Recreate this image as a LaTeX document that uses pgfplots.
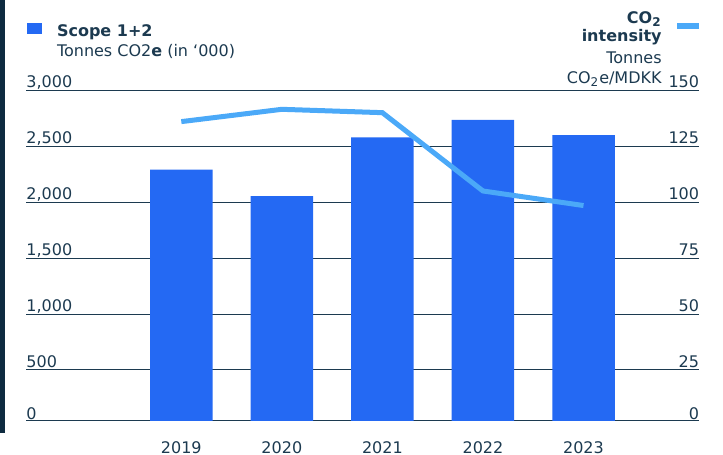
\documentclass[border=0pt]{standalone}
\usepackage{fontspec}
\setmainfont{DejaVu Sans}
\usepackage{pgfplots}
\pgfplotsset{compat=1.18}
\definecolor{barc}{HTML}{2469F3}
\definecolor{linec}{HTML}{4BA9F8}
\definecolor{navy}{HTML}{0E2B40}
\definecolor{textc}{HTML}{1C3A50}
\definecolor{gridc}{HTML}{1C3A50}
\begin{document}
\begin{tikzpicture}[font=\fontsize{8}{10}\selectfont, text=textc]
\path[use as bounding box] (0,0) rectangle (361.5pt,227.5pt);
\fill[navy] (0,11pt) rectangle (2.5pt,227.5pt);
\pgfplotsset{base/.style={
  at={(13pt,17.05pt)}, anchor=south west, scale only axis,
  width=336.75pt, height=165.3pt,
  xmin=-1.5445, xmax=5.1536,
  axis line style={draw=none}, major tick length=0pt,
  /pgf/number format/assume math mode=true,
  tick label style={font=\fontsize{8}{10}\selectfont, text=textc},
}}
\begin{axis}[base,
  ymin=45, ymax=3000,
  ytick={500,1000,...,3000},
  extra y ticks={45}, extra y tick labels={0},
  extra y tick style={grid=major, yticklabel style={yshift=-0.8pt}},
  xtick={0,...,4}, xticklabels={2019,2020,2021,2022,2023},
  xticklabel style={anchor=base, yshift=-16.5pt, inner sep=0pt},
  ytick pos=left, yticklabel pos=left,
  ymajorgrids, major grid style={gridc, line width=0.5pt},
  yticklabel style={anchor=base west, inner sep=0pt, yshift=1.3pt},
  ]
\addplot[ybar, bar width=0.6216, fill=barc, draw=none] coordinates {(0,2290) (1,2055) (2,2580) (3,2735) (4,2600)};
\end{axis}
\begin{axis}[base,
  ymin=2.25, ymax=150,
  ytick={25,50,...,150},
  extra y ticks={2.25}, extra y tick labels={0},
  extra y tick style={yticklabel style={yshift=-0.8pt}},
  xtick=\empty,
  ytick pos=right, yticklabel pos=right,
  yticklabel style={anchor=base east, inner sep=0pt, yshift=1.3pt},
  ]
\addplot[linec, line width=2.5pt, mark=none] coordinates {(0,136) (1,141.5) (2,140) (3,105) (4,98.5)};
\end{axis}
% legends
\fill[barc] (13.5pt,210.65pt) rectangle (20.85pt,216.15pt);
\node[anchor=base west, inner sep=0pt] at (28.3pt,209.2pt) {\textbf{Scope 1+2}};
\node[anchor=base west, inner sep=0pt] at (28.3pt,199.2pt) {Tonnes CO2\textbf{e} (in ‘000)};
\node[anchor=base east, inner sep=0pt] at (331pt,215.8pt) {\textbf{CO\textsubscript{2}}};
\node[anchor=base east, inner sep=0pt] at (331pt,206.6pt) {\textbf{intensity}};
\node[anchor=base east, inner sep=0pt] at (331pt,195.8pt) {Tonnes};
\node[anchor=base east, inner sep=0pt] at (331pt,185.8pt) {CO\textsubscript{2}e/MDKK};
\draw[linec, line width=3pt] (338.5pt,214.5pt) -- (349.5pt,214.5pt);
\end{tikzpicture}
\end{document}
